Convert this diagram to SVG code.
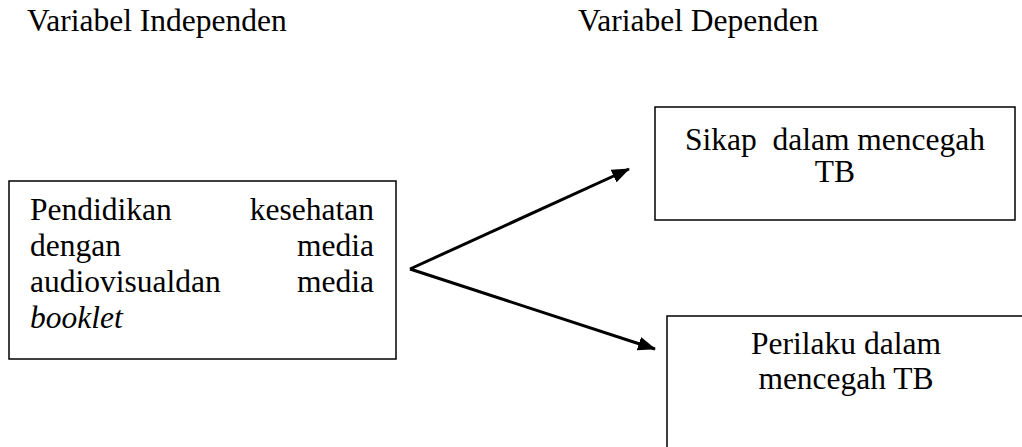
<svg xmlns="http://www.w3.org/2000/svg" width="1022" height="447" viewBox="0 0 1022 447">
<style>
text{font-family:"Liberation Serif","Times New Roman",serif;font-size:31.5px;fill:#000}
.box{fill:#fff;stroke:#000;stroke-width:1.5}
.conn{fill:none;stroke:#000;stroke-width:3}
.mid{text-anchor:middle}
.end{text-anchor:end}
</style>
<defs>
<marker id="ah" viewBox="0 0 18 14" refX="17" refY="7" markerWidth="18" markerHeight="14" markerUnits="userSpaceOnUse" orient="auto">
<path d="M0,0 L18,7 L0,14 Z" fill="#000"/>
</marker>
</defs>
<rect width="1022" height="447" fill="#fff"/>
<g id="titles">
<text x="27" y="31">Variabel Independen</text>
<text x="578" y="31">Variabel Dependen</text>
</g>
<g id="connectors">
<path class="conn" d="M410,269 L629,169" marker-end="url(#ah)"/>
<path class="conn" d="M410,269 L655,349" marker-end="url(#ah)"/>
</g>
<g id="node-independen">
<rect class="box" x="9" y="181" width="387" height="178"/>
<text x="30" y="220">Pendidikan</text>
<text class="end" x="374" y="220">kesehatan</text>
<text x="30" y="256">dengan</text>
<text class="end" x="374" y="256">media</text>
<text x="30" y="292">audiovisualdan</text>
<text class="end" x="374" y="292">media</text>
<text x="30" y="328" font-style="italic">booklet</text>
</g>
<g id="node-sikap">
<rect class="box" x="655" y="107" width="360" height="113"/>
<text class="mid" x="835" y="150" xml:space="preserve">Sikap  dalam mencegah</text>
<text class="mid" x="835" y="182">TB</text>
</g>
<g id="node-perilaku">
<rect class="box" x="667" y="316" width="358" height="140"/>
<text class="mid" x="846" y="354">Perilaku dalam</text>
<text class="mid" x="846" y="389">mencegah TB</text>
</g>
</svg>
